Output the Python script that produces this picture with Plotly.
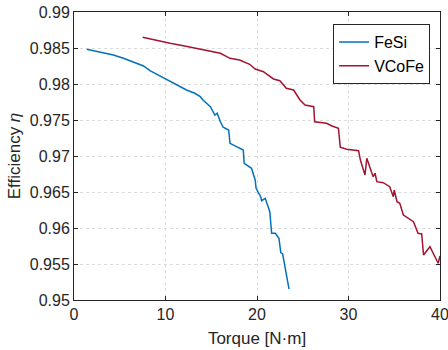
import plotly.graph_objects as go

# FeSi data
fesi_torque = [1.39, 3.2, 4.3, 5.4, 6.5, 7.6, 8.3, 9.4, 10.3, 11.2, 12.3, 13.2, 13.8, 14.1, 14.9,
               15.4, 15.65, 16.0, 16.3, 16.9, 17.05, 18.5, 18.6, 19.4, 19.8, 19.9, 20.4, 20.5,
               20.9, 21.4, 21.6, 22.0, 22.4, 22.6, 22.8, 23.5]
fesi_eff = [0.98482, 0.98435, 0.98403, 0.98357, 0.98306, 0.9825, 0.98185, 0.98111, 0.98056,
            0.97986, 0.97917, 0.97871, 0.97824, 0.97778, 0.97685, 0.97569, 0.97595, 0.97476,
            0.97399, 0.97361, 0.97176, 0.97083, 0.96899, 0.96829, 0.96667, 0.96551, 0.96435,
            0.96379, 0.96412, 0.96226, 0.95926, 0.95926, 0.95857, 0.95657, 0.95639, 0.95152]

# VCoFe data
vcofe_torque = [7.5, 9.0, 10.5, 11.95, 13.4, 14.9, 16.0, 17.05, 18.1, 19.2, 19.8, 20.7, 21.4,
                21.8, 22.5, 23.2, 24.0, 24.7, 25.25, 26.2, 26.3, 27.6, 28.2, 28.9, 29.1, 29.8,
                31.1, 31.3, 31.8, 32.0, 32.5, 32.7, 32.9, 33.1, 33.8, 34.5, 34.9, 35.0, 35.3,
                35.6, 36.0, 36.5, 37.1, 37.6, 38.0, 38.2, 38.9, 39.8, 40.0]
vcofe_eff = [0.98648, 0.98602, 0.98565, 0.98532, 0.98496, 0.98463, 0.98426, 0.98357, 0.98333,
             0.98274, 0.98208, 0.98171, 0.98111, 0.9807, 0.98046, 0.9794, 0.97917, 0.97778,
             0.97708, 0.97685, 0.97476, 0.97454, 0.97417, 0.97385, 0.97121, 0.97093, 0.97074,
             0.96944, 0.96736, 0.96968, 0.96782, 0.96713, 0.9676, 0.96644, 0.9663, 0.96574,
             0.96435, 0.96528, 0.96366, 0.96343, 0.9618, 0.96134, 0.96088, 0.95926, 0.95917,
             0.95625, 0.9574, 0.9551, 0.95611]

x_ticks = [0, 10, 20, 30, 40]
y_ticks = [0.95, 0.955, 0.96, 0.965, 0.97, 0.975, 0.98, 0.985, 0.99]
y_tick_labels = ["0.95", "0.955", "0.96", "0.965", "0.97", "0.975", "0.98", "0.985", "0.99"]

fig = go.Figure()
fig.add_trace(go.Scatter(x=fesi_torque, y=fesi_eff, mode="lines", name="FeSi",
                         line=dict(color="#0072BD", width=1.5)))
fig.add_trace(go.Scatter(x=vcofe_torque, y=vcofe_eff, mode="lines", name="VCoFe",
                         line=dict(color="#A2142F", width=1.5)))

axis_common = dict(showline=True, linecolor="#262626", linewidth=1, mirror="ticks",
                   ticks="inside", ticklen=4, tickcolor="#262626", automargin=False,
                   ticklabeloverflow="allow",
                   showgrid=True, gridcolor="#dcdcdc", griddash="dot", gridwidth=1,
                   zeroline=False, tickfont=dict(size=16, color="#262626"))

fig.update_xaxes(range=[0, 40], tickvals=x_ticks,
                 title=dict(text="Torque [N·m]", font=dict(size=17, color="#262626"), standoff=9),
                 **axis_common)
fig.update_yaxes(range=[0.95, 0.99], tickvals=y_ticks, ticktext=y_tick_labels,
                 title=dict(text="Efficiency <i>η</i>", font=dict(size=17, color="#262626"), standoff=4),
                 **axis_common)

fig.update_layout(
    width=448, height=350,
    margin=dict(l=74, r=8, t=12, b=50),
    paper_bgcolor="white", plot_bgcolor="white",
    font=dict(family="Liberation Sans, Arial, sans-serif", color="#262626"),
    showlegend=True,
    legend=dict(x=0.708, y=0.958, xanchor="left", yanchor="top",
                bgcolor="white", bordercolor="#262626", borderwidth=1,
                font=dict(size=16, color="#000000"), tracegroupgap=0,
                itemwidth=30),
)

fig.write_html("out.html")
